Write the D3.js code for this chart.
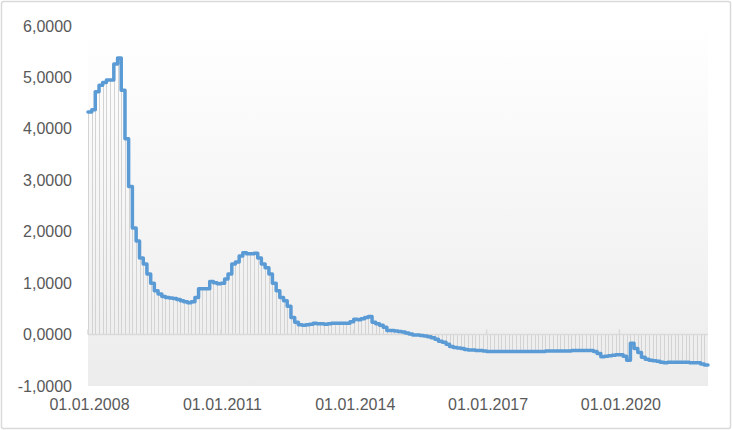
<!DOCTYPE html>
<html>
<head>
<meta charset="utf-8">
<script src="https://cdn.jsdelivr.net/npm/d3@7"></script>
<style>
html,body{margin:0;padding:0;background:#fff;}
svg{display:block;font-family:"Liberation Sans",Arial,sans-serif;}
</style>
</head>
<body>
<svg id="chart" width="732" height="430"></svg>
<script>
// ---- data (monthly values) ----
const startMonth = "2008-01";
const v2008 = [4.33, 4.37, 4.72, 4.85, 4.90, 4.95, 4.95, 5.26, 5.38, 4.75, 3.81, 2.88];
const v2009 = [2.07, 1.82, 1.49, 1.37, 1.18, 1.00, 0.85, 0.79, 0.74, 0.72, 0.71, 0.70];
const v2010 = [0.68, 0.66, 0.64, 0.62, 0.64, 0.72, 0.89, 0.89, 0.89, 1.03, 1.01, 0.99];
const v2011 = [1.00, 1.08, 1.18, 1.37, 1.41, 1.53, 1.59, 1.57, 1.57, 1.58, 1.49, 1.37];
const v2012 = [1.30, 1.18, 1.00, 0.85, 0.72, 0.66, 0.55, 0.33, 0.24, 0.19, 0.18, 0.19];
const v2013 = [0.20, 0.22, 0.21, 0.21, 0.20, 0.21, 0.22, 0.22, 0.22, 0.22, 0.22, 0.25];
const v2014 = [0.30, 0.29, 0.31, 0.33, 0.35, 0.24, 0.21, 0.18, 0.14, 0.08, 0.08, 0.07];
const v2015 = [0.06, 0.05, 0.03, 0.01, -0.01, -0.01, -0.02, -0.03, -0.04, -0.06, -0.09, -0.13];
const v2016 = [-0.15, -0.19, -0.23, -0.25, -0.26, -0.27, -0.29, -0.30, -0.30, -0.31, -0.31, -0.32];
const v2017 = [-0.33, -0.33, -0.33, -0.33, -0.33, -0.33, -0.33, -0.33, -0.33, -0.33, -0.33, -0.33];
const v2018 = [-0.33, -0.33, -0.33, -0.33, -0.32, -0.32, -0.32, -0.32, -0.32, -0.32, -0.32, -0.31];
const v2019 = [-0.31, -0.31, -0.31, -0.31, -0.31, -0.33, -0.37, -0.43, -0.42, -0.41, -0.40, -0.39];
const v2020 = [-0.39, -0.42, -0.50, -0.17, -0.27, -0.35, -0.44, -0.48, -0.50, -0.51, -0.52, -0.54];
const v2021 = [-0.55, -0.54, -0.54, -0.54, -0.54, -0.54, -0.54, -0.55, -0.55, -0.55, -0.57, -0.59];

const yTickValues = [-1, 0, 1, 2, 3, 4, 5, 6];
const xTickLabels = ["01.01.2008", "01.01.2011", "01.01.2014", "01.01.2017", "01.01.2020"];

// ---- build series ----
const values = [].concat(v2008, v2009, v2010, v2011, v2012, v2013, v2014,
                         v2015, v2016, v2017, v2018, v2019, v2020, v2021);
const parseMonth = d3.timeParse("%Y-%m");
const t0 = parseMonth(startMonth);
const data = values.map((v, i) => ({ date: d3.timeMonth.offset(t0, i), value: v }));
const endDate = d3.timeMonth.offset(t0, values.length);
const parseLabel = d3.timeParse("%d.%m.%Y");
const xTicks = xTickLabels.map(parseLabel);

// ---- layout ----
const svg = d3.select("#chart");
const W = 732, H = 430;
const pL = 88, pR = 708, pT = 26, pB = 386;

const x = d3.scaleTime().domain([t0, endDate]).range([pL, pR]);
const y = d3.scaleLinear().domain([-1, 6]).range([pB, pT]);

// outer border
svg.append("rect")
  .attr("x", 1.5).attr("y", 1.5).attr("width", W - 3).attr("height", H - 3)
  .attr("rx", 2).attr("fill", "#fff").attr("stroke", "#d9d9d9").attr("stroke-width", 1.5);

// plot area gradient
const defs = svg.append("defs");
const grad = defs.append("linearGradient").attr("id", "bg")
  .attr("x1", 0).attr("y1", 0).attr("x2", 0).attr("y2", 1);
grad.append("stop").attr("offset", "0%").attr("stop-color", "#ffffff");
grad.append("stop").attr("offset", "100%").attr("stop-color", "#ececec");

svg.append("rect")
  .attr("x", pL).attr("y", pT).attr("width", pR - pL).attr("height", pB - pT)
  .attr("fill", "url(#bg)");

// drop lines
svg.append("g").selectAll("line").data(data).join("line")
  .attr("x1", d => Math.round(x(d.date)) + 0.5)
  .attr("x2", d => Math.round(x(d.date)) + 0.5)
  .attr("y1", y(0))
  .attr("y2", d => y(d.value))
  .attr("stroke", "#d3d3d3")
  .attr("stroke-width", 1);

// zero axis line with ticks
svg.append("line")
  .attr("x1", pL).attr("x2", pR).attr("y1", y(0)).attr("y2", y(0))
  .attr("stroke", "#d9d9d9").attr("stroke-width", 1.5);
svg.append("g").selectAll("line").data(xTicks).join("line")
  .attr("x1", d => x(d)).attr("x2", d => x(d))
  .attr("y1", y(0)).attr("y2", y(0) - 5)
  .attr("stroke", "#d9d9d9").attr("stroke-width", 1.5);

// y axis labels
const fmt = d => d3.format(".4f")(d).replace(".", ",").replace("−", "-");
const yAxis = d3.axisLeft(y).tickValues(yTickValues).tickSize(0).tickPadding(0).tickFormat(fmt);
const gy = svg.append("g").attr("transform", `translate(${pL - 16},0)`).call(yAxis);
gy.select(".domain").remove();
gy.selectAll("text").attr("font-size", 16).attr("fill", "#595959")
  .attr("font-family", "'Liberation Sans', Arial, sans-serif");

// x axis labels
const xAxis = d3.axisBottom(x).tickValues(xTicks).tickSize(0).tickPadding(0)
  .tickFormat(d3.timeFormat("%d.%m.%Y"));
const gx = svg.append("g").attr("transform", `translate(1,${pB + 13})`).call(xAxis);
gx.select(".domain").remove();
gx.selectAll("text").attr("font-size", 16).attr("fill", "#595959")
  .attr("font-family", "'Liberation Sans', Arial, sans-serif");

// series line (step)
const lineData = data.concat([{ date: endDate, value: values[values.length - 1] }]);
const line = d3.line().x(d => x(d.date)).y(d => y(d.value)).curve(d3.curveStepAfter);
svg.append("path").datum(lineData)
  .attr("d", line)
  .attr("fill", "none")
  .attr("stroke", "#5b9bd5")
  .attr("stroke-width", 3.5)
  .attr("stroke-linejoin", "round")
  .attr("stroke-linecap", "round");
</script>
</body>
</html>
